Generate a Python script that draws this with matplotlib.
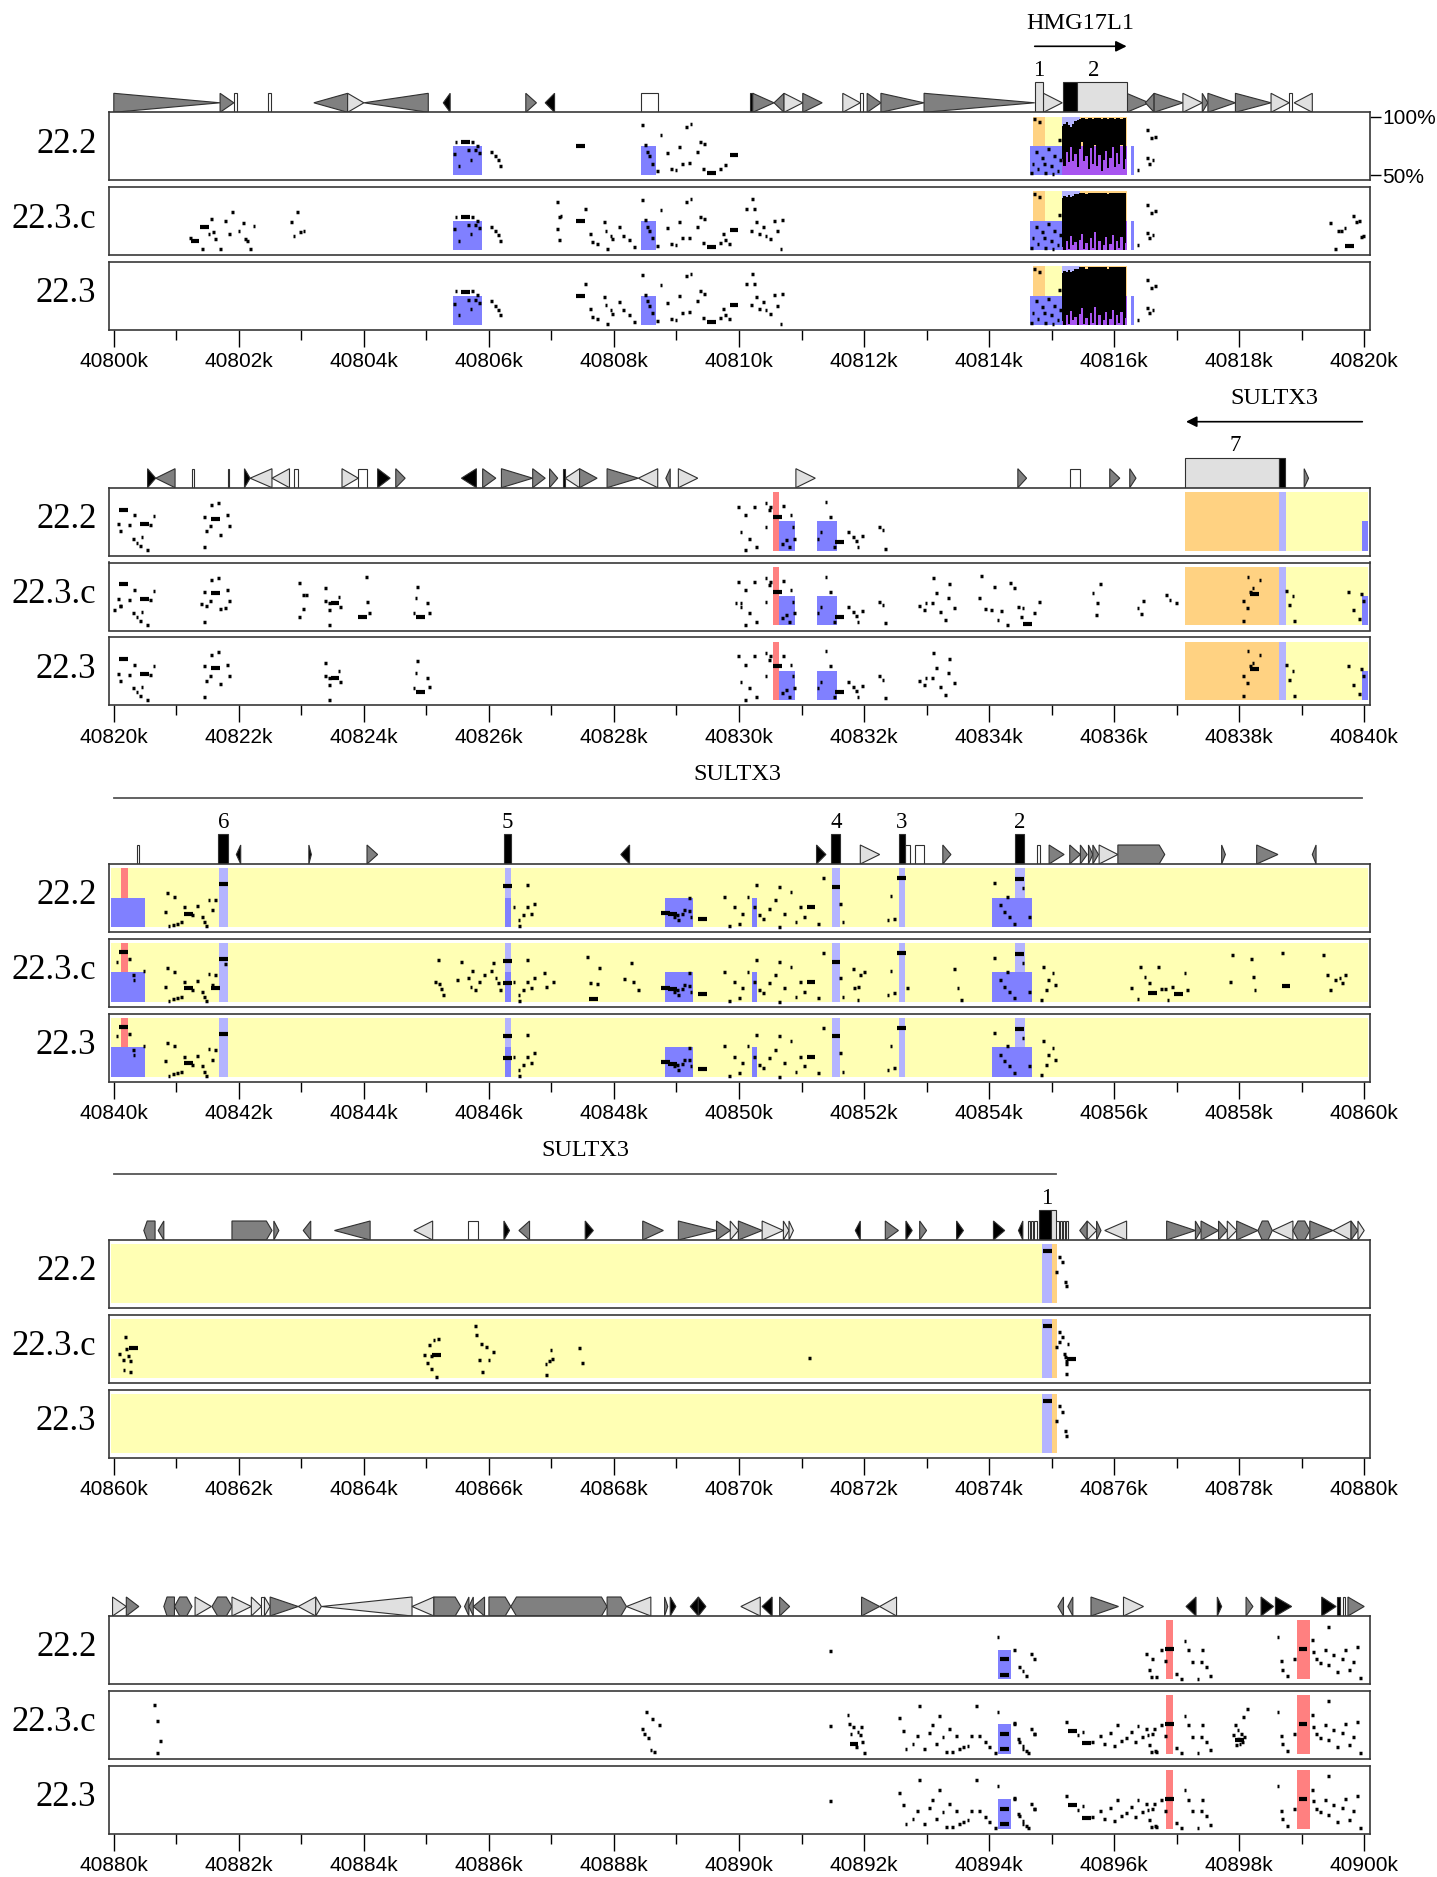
import matplotlib
matplotlib.use('Agg')
import matplotlib.pyplot as plt
from matplotlib.patches import Polygon
from matplotlib.ticker import MultipleLocator, FuncFormatter

W, H = 1437, 1877
SERIF = ['Liberation Serif', 'DejaVu Serif']
SANS = ['Liberation Sans', 'DejaVu Sans']

track_names = ['22.2', '22.3.c', '22.3']
panel_starts = [40800, 40820, 40840, 40860, 40880]

# gene name, label centre, arrow / line extent (kb)
gene_labels = [('HMG17L1', 40815.46), ('SULTX3', 40838.57), ('SULTX3', 40849.97), ('SULTX3', 40867.54), None]
gene_arrows = [(40814.73, 40816.20, '>'), (40839.97, 40837.15, '<'), (40840.0, 40859.97, '-'), (40860.0, 40875.07, '-'), None]

# repeats: (start, end, shape, class)  shape > < right/left, p q pentagon, h hexagon, b box, | bar
p1_repeats = [
    (40800.00, 40801.70, '>', 'g'), (40801.70, 40801.92, '>', 'g'), (40801.93, 40801.97, '|', 'w'),
    (40802.47, 40802.51, '|', 'w'), (40803.20, 40803.74, '<', 'g'), (40803.74, 40804.00, '>', 'l'),
    (40804.00, 40805.03, '<', 'g'), (40805.27, 40805.38, '<', 'k'), (40806.59, 40806.76, '>', 'g'),
    (40806.90, 40807.05, '<', 'k'), (40808.44, 40808.70, 'b', 'w'), (40810.18, 40810.22, '|', 'k'),
    (40810.22, 40810.56, '>', 'g'), (40810.56, 40810.72, '<', 'g'), (40810.72, 40811.02, '>', 'l'),
    (40811.02, 40811.33, '>', 'g'), (40811.66, 40811.94, '>', 'l'), (40811.94, 40811.99, '|', 'w'),
    (40812.05, 40812.27, '>', 'g'), (40812.27, 40812.96, '>', 'g'), (40812.96, 40814.73, '>', 'g'),
    (40814.87, 40815.17, '>', 'l'), (40816.20, 40816.56, '>', 'g'), (40816.50, 40816.64, '<', 'g'),
    (40816.64, 40817.10, '>', 'g'), (40817.10, 40817.41, '>', 'l'), (40817.41, 40817.50, '>', 'g'),
    (40817.50, 40817.94, '>', 'g'), (40817.94, 40818.51, '>', 'g'), (40818.51, 40818.80, '>', 'l'),
    (40818.80, 40818.85, '|', 'w'), (40818.88, 40819.17, '<', 'l'),
]
p2_repeats = [
    (40820.54, 40820.67, '>', 'k'), (40820.67, 40820.98, '<', 'g'), (40821.25, 40821.29, '|', 'w'),
    (40821.82, 40821.85, '|', 'k'), (40822.09, 40822.18, '>', 'k'), (40822.18, 40822.53, '<', 'l'),
    (40822.53, 40822.81, '<', 'l'), (40822.88, 40822.94, '|', 'w'), (40823.65, 40823.91, '>', 'l'),
    (40823.91, 40824.05, 'b', 'w'), (40824.22, 40824.42, '>', 'k'), (40824.51, 40824.66, '>', 'g'),
    (40825.56, 40825.80, '<', 'k'), (40825.90, 40826.11, '>', 'g'), (40826.20, 40826.70, '>', 'g'),
    (40826.70, 40826.90, '>', 'g'), (40826.97, 40827.10, '>', 'g'), (40827.19, 40827.22, '|', 'k'),
    (40827.22, 40827.45, '<', 'l'), (40827.45, 40827.73, '>', 'g'), (40827.89, 40828.39, '>', 'g'),
    (40828.39, 40828.70, '<', 'l'), (40828.83, 40828.90, '<', 'g'), (40829.03, 40829.34, '>', 'l'),
    (40830.91, 40831.22, '>', 'l'), (40834.46, 40834.60, '>', 'g'), (40835.29, 40835.45, 'b', 'w'),
    (40835.93, 40836.09, '>', 'g'), (40836.25, 40836.35, '>', 'g'), (40839.04, 40839.11, '>', 'g'),
]
p3_repeats = [
    (40840.37, 40840.41, '|', 'w'), (40841.96, 40842.03, '<', 'k'), (40843.12, 40843.16, '>', 'k'),
    (40844.05, 40844.22, '>', 'g'), (40848.11, 40848.25, '<', 'k'), (40851.24, 40851.39, '>', 'k'),
    (40851.94, 40852.25, '>', 'l'), (40852.65, 40852.74, 'b', 'w'), (40852.82, 40852.96, 'b', 'w'),
    (40853.26, 40853.39, '>', 'g'), (40854.77, 40854.81, '|', 'w'), (40854.96, 40855.20, '>', 'g'),
    (40855.29, 40855.46, '>', 'g'), (40855.46, 40855.57, '>', 'g'), (40855.59, 40855.66, '>', 'g'),
    (40855.66, 40855.75, '>', 'g'), (40855.76, 40856.06, '>', 'l'), (40856.06, 40856.81, 'p', 'g'),
    (40857.72, 40857.78, '>', 'g'), (40858.28, 40858.62, '>', 'g'), (40859.17, 40859.23, '<', 'g'),
]
p4_repeats = [
    (40860.48, 40860.66, 'q', 'g'), (40860.71, 40860.80, '<', 'g'), (40861.89, 40862.53, 'p', 'g'),
    (40862.56, 40862.64, '>', 'g'), (40863.03, 40863.15, '<', 'g'), (40863.53, 40864.10, '<', 'g'),
    (40864.80, 40865.10, '<', 'l'), (40865.66, 40865.83, 'b', 'w'), (40866.24, 40866.33, '>', 'k'),
    (40866.48, 40866.65, '<', 'g'), (40867.54, 40867.67, '>', 'k'), (40868.46, 40868.79, '>', 'g'),
    (40869.03, 40869.64, '>', 'g'), (40869.64, 40869.86, '>', 'g'), (40869.86, 40869.99, '>', 'l'),
    (40869.99, 40870.37, '>', 'g'), (40870.37, 40870.71, '>', 'l'), (40870.71, 40870.80, '>', 'l'),
    (40870.80, 40870.87, '>', 'l'), (40871.86, 40871.94, '<', 'k'), (40872.34, 40872.55, '>', 'g'),
    (40872.67, 40872.77, '>', 'k'), (40872.89, 40873.00, '>', 'g'), (40873.48, 40873.59, '>', 'k'),
    (40874.07, 40874.25, '>', 'k'), (40874.47, 40874.54, '<', 'k'), (40874.62, 40874.66, '|', 'w'),
    (40874.67, 40874.71, '|', 'w'), (40874.72, 40874.76, '|', 'w'), (40875.03, 40875.12, 'b', 'w'),
    (40875.13, 40875.17, '|', 'w'), (40875.18, 40875.22, '|', 'w'), (40875.23, 40875.27, '|', 'w'),
    (40875.45, 40875.57, '<', 'g'), (40875.57, 40875.72, '>', 'l'), (40875.72, 40875.79, '>', 'g'),
    (40875.85, 40876.20, '<', 'l'), (40876.84, 40877.30, '>', 'g'), (40877.30, 40877.39, '>', 'g'),
    (40877.39, 40877.67, '>', 'g'), (40877.67, 40877.81, '>', 'g'), (40877.81, 40877.96, '>', 'l'),
    (40877.96, 40878.30, '>', 'g'), (40878.30, 40878.53, 'h', 'g'), (40878.53, 40878.86, '<', 'l'),
    (40878.86, 40879.13, 'h', 'g'), (40879.13, 40879.50, '>', 'g'), (40879.50, 40879.79, '<', 'l'),
    (40879.79, 40879.90, '>', 'g'), (40879.90, 40880.00, '>', 'l'),
]
p5_repeats = [
    (40879.98, 40880.20, '>', 'l'), (40880.20, 40880.40, '>', 'g'), (40880.80, 40880.97, 'q', 'g'),
    (40880.97, 40881.25, 'h', 'g'), (40881.30, 40881.56, '>', 'l'), (40881.57, 40881.89, 'h', 'g'),
    (40881.89, 40882.20, '>', 'l'), (40882.20, 40882.36, '>', 'l'), (40882.36, 40882.41, '|', 'w'),
    (40882.41, 40882.50, '>', 'l'), (40882.50, 40882.95, '>', 'g'), (40882.95, 40883.23, '<', 'l'),
    (40883.23, 40883.32, '>', 'l'), (40883.32, 40884.77, '<', 'l'), (40884.77, 40885.12, '<', 'l'),
    (40885.12, 40885.55, 'p', 'g'), (40885.61, 40885.68, '<', 'g'), (40885.68, 40885.75, '<', 'g'),
    (40885.75, 40885.93, '<', 'g'), (40886.00, 40886.35, 'p', 'g'), (40886.35, 40887.89, 'h', 'g'),
    (40887.89, 40888.20, 'p', 'g'), (40888.20, 40888.59, '<', 'l'), (40888.81, 40888.86, '>', 'g'),
    (40888.90, 40888.99, '>', 'k'), (40889.22, 40889.35, '<', 'k'), (40889.35, 40889.47, '>', 'k'),
    (40890.03, 40890.34, '<', 'l'), (40890.37, 40890.53, '<', 'k'), (40890.65, 40890.81, '>', 'g'),
    (40891.96, 40892.25, '>', 'g'), (40892.25, 40892.52, '<', 'l'), (40895.10, 40895.19, '<', 'g'),
    (40895.26, 40895.34, '<', 'g'), (40895.63, 40896.07, '>', 'g'), (40896.15, 40896.47, '>', 'l'),
    (40897.15, 40897.31, '<', 'k'), (40897.65, 40897.72, '>', 'k'), (40898.11, 40898.22, '>', 'g'),
    (40898.35, 40898.55, '>', 'k'), (40898.58, 40898.84, '>', 'k'), (40899.32, 40899.55, '>', 'k'),
    (40899.57, 40899.61, '|', 'k'), (40899.66, 40899.70, '|', 'w'), (40899.74, 40900.00, '>', 'g'),
]

# exons: (start, end, c = coding / u = utr) and their numbers
p1_exons = [(40814.73, 40814.87, 'u'), (40815.18, 40815.41, 'c'), (40815.41, 40816.20, 'u')]
p2_exons = [(40837.14, 40838.64, 'u'), (40838.64, 40838.74, 'c')]
p3_exons = [(40841.67, 40841.83, 'c'), (40846.24, 40846.35, 'c'), (40851.47, 40851.62, 'c'),
            (40852.56, 40852.65, 'c'), (40854.41, 40854.56, 'c')]
p4_exons = [(40874.80, 40874.99, 'c'), (40874.99, 40875.07, 'u')]
p5_exons = []
p1_exon_nums = [(40814.80, '1'), (40815.68, '2')]
p2_exon_nums = [(40837.94, '7')]
p3_exon_nums = [(40841.75, '6'), (40846.30, '5'), (40851.55, '4'), (40852.60, '3'), (40854.49, '2')]
p4_exon_nums = [(40874.92, '1')]
p5_exon_nums = []

# shaded regions: (start, end, part, class)
p1_shade = [
    (40805.43, 40805.89, 'lo', 'B'), (40808.44, 40808.68, 'lo', 'B'), (40814.71, 40814.90, 'up', 'O'),
    (40814.90, 40815.17, 'up', 'Y'), (40814.65, 40815.17, 'lo', 'B'), (40815.17, 40815.45, 'up', 'L'),
    (40815.45, 40816.20, 'up', 'O'), (40815.17, 40816.20, 'lo', 'P'), (40816.27, 40816.32, 'lo', 'B'),
]
p2_shade = [
    (40830.64, 40830.89, 'lo', 'B'), (40830.55, 40830.64, 'all', 'R'), (40831.24, 40831.56, 'lo', 'B'),
    (40837.14, 40838.64, 'all', 'O'), (40838.64, 40838.75, 'all', 'L'), (40838.75, 40840.06, 'all', 'Y'),
    (40839.96, 40840.06, 'lo', 'B'),
]
p3_shade = [
    (40839.96, 40860.06, 'all', 'Y'), (40839.96, 40840.50, 'lo', 'B'), (40840.11, 40840.23, 'up', 'R'),
    (40841.68, 40841.83, 'all', 'L'), (40846.25, 40846.35, 'up', 'L'), (40846.25, 40846.35, 'lo', 'B'),
    (40848.81, 40849.27, 'lo', 'B'), (40850.21, 40850.28, 'lo', 'B'), (40851.48, 40851.61, 'all', 'L'),
    (40852.56, 40852.65, 'all', 'L'), (40854.42, 40854.57, 'up', 'L'), (40854.05, 40854.69, 'lo', 'B'),
]
p4_shade = [(40859.96, 40874.84, 'all', 'Y'), (40874.84, 40875.00, 'all', 'L'), (40875.00, 40875.09, 'all', 'O')]
p5_shade = [(40894.15, 40894.35, 'lo', 'B'), (40896.83, 40896.94, 'all', 'R'), (40898.93, 40899.13, 'all', 'R')]

# aligned segments (kb, % identity) per group of tracks: a = 22.2, b = 22.3.c, c = 22.3
p1_dots = [
    ('abc', [(40805.47, 78.6), (40805.74, 78.6), (40805.45, 68.0), (40805.52, 58.0), (40805.67, 71.4),
             (40805.71, 63.4), (40805.78, 71.4), (40805.85, 68.6), (40806.04, 70.0), (40806.10, 66.3),
             (40806.15, 62.9), (40806.18, 58.0), (40805.82, 75.1),
             (40808.46, 92.9), (40808.50, 75.7), (40808.53, 70.0), (40808.57, 66.3), (40808.61, 60.0),
             (40808.69, 53.7), (40808.75, 84.3), (40808.86, 68.6), (40808.92, 55.1), (40808.99, 54.3),
             (40809.05, 74.3), (40809.10, 60.0), (40809.20, 60.6), (40809.33, 70.0), (40809.38, 78.6),
             (40809.43, 55.7), (40809.45, 76.6), (40809.23, 93.7), (40809.16, 91.4), (40809.70, 55.7),
             (40809.78, 58.6),
             (40814.70, 60.0), (40814.75, 70.0), (40814.78, 55.0), (40814.85, 65.0), (40814.90, 52.0),
             (40814.95, 72.0), (40815.00, 58.0), (40815.05, 66.0), (40815.10, 54.0), (40814.72, 98.0),
             (40814.80, 95.0), (40815.12, 80.0), (40814.68, 52.0), (40814.88, 60.0), (40815.02, 51.0),
             (40815.14, 63.0),
             (40816.53, 88.6), (40816.60, 81.4), (40816.66, 82.9), (40816.53, 64.3), (40816.56, 60.0),
             (40816.62, 62.9), (40816.38, 54.3)]),
    ('bc', [(40807.54, 85.1), (40807.62, 63.7), (40807.65, 56.6), (40807.73, 55.1), (40807.84, 73.7),
            (40807.87, 66.6), (40807.95, 62.3), (40807.98, 59.4), (40807.89, 50.9), (40808.09, 69.4),
            (40808.15, 62.3), (40808.24, 58.6), (40808.33, 52.3),
            (40810.21, 93.7), (40810.25, 85.1), (40810.20, 66.6), (40810.28, 73.7), (40810.32, 63.7),
            (40810.39, 69.4), (40810.43, 62.3), (40810.50, 59.4), (40810.56, 75.1), (40810.61, 66.0),
            (40810.67, 50.5), (40810.69, 76.0), (40810.12, 85.1), (40809.84, 55.1), (40809.75, 63.7)]),
    ('b', [(40801.23, 60.0), (40801.56, 76.6), (40801.59, 65.1), (40801.63, 59.4), (40801.70, 50.5),
           (40801.78, 75.1), (40801.85, 63.7), (40801.89, 82.3), (40802.00, 66.6), (40802.07, 72.9),
           (40802.11, 59.4), (40802.14, 58.0), (40802.18, 50.5), (40802.24, 70.6), (40801.41, 50.9),
           (40801.52, 63.7),
           (40802.84, 73.7), (40802.88, 62.3), (40802.94, 82.3), (40802.99, 65.1), (40803.04, 66.0),
           (40807.10, 90.9), (40807.12, 78.0), (40807.10, 68.0), (40807.12, 58.9), (40807.15, 79.4),
           (40819.46, 72.9), (40819.58, 66.6), (40819.63, 66.6), (40819.69, 68.9), (40819.83, 79.4),
           (40819.87, 73.7), (40819.92, 75.1), (40819.96, 60.9), (40819.99, 62.3), (40819.54, 50.9)]),
]
p1_dashes = [
    ('abc', [(40805.63, 78.0), (40807.47, 75.0), (40809.56, 52.3), (40809.92, 67.1)]),
    ('b', [(40801.30, 57.4), (40801.45, 70.0), (40819.76, 53.7)]),
]
# dense block over HMG17L1 exon 2: x, top and bottom of the black mass
p1_dense_x = [40815.17, 40815.21, 40815.24, 40815.28, 40815.31, 40815.35, 40815.38, 40815.42,
              40815.45, 40815.49, 40815.52, 40815.56, 40815.59, 40815.63, 40815.66, 40815.70,
              40815.73, 40815.77, 40815.80, 40815.84, 40815.87, 40815.91, 40815.94, 40815.98,
              40816.01, 40816.05, 40816.08, 40816.12, 40816.15, 40816.19]
p1_dense_top_a = [92, 94, 95, 93, 91, 94, 96, 97, 98, 99, 99, 98, 99, 99, 98,
                  99, 99, 99, 98, 99, 99, 98, 99, 99, 98, 99, 99, 98, 99, 99]
p1_dense_low_a = [64, 58, 70, 61, 74, 62, 68, 57, 72, 78, 62, 66, 55, 73, 60,
                  76, 58, 67, 54, 63, 71, 56, 65, 74, 57, 69, 60, 76, 55, 64]
p1_dense_top_bc = [94, 96, 95, 97, 95, 96, 98, 98, 99, 99, 99, 98, 99, 99, 99,
                   99, 99, 99, 99, 99, 99, 98, 99, 99, 99, 99, 99, 99, 99, 99]
p1_dense_low_bc = [53, 50, 58, 51, 62, 54, 57, 50, 59, 64, 51, 56, 50, 60, 52,
                   65, 50, 58, 50, 54, 61, 50, 55, 63, 50, 58, 52, 61, 50, 56]

p2_dots = [
    ('abc', [(40820.07, 72.6), (40820.11, 66.6), (40820.25, 71.7), (40820.33, 80.3), (40820.31, 60.3),
             (40820.37, 56.9), (40820.42, 54.0), (40820.59, 71.7), (40820.64, 79.4), (40820.45, 61.7),
             (40820.54, 50.5),
             (40821.45, 78.9), (40821.56, 88.9), (40821.67, 90.9), (40821.54, 70.9), (40821.48, 66.6),
             (40821.81, 80.3), (40821.85, 70.9), (40821.70, 63.7), (40821.45, 53.1),
             (40829.99, 87.4), (40830.10, 80.3), (40830.25, 87.4), (40830.43, 90.3), (40830.50, 87.4),
             (40830.03, 66.0), (40830.17, 60.3), (40830.28, 53.1), (40830.10, 50.5), (40830.43, 70.3),
             (40830.49, 84.6), (40830.71, 88.0), (40830.83, 80.3), (40830.86, 70.3), (40830.89, 60.3),
             (40830.69, 56.0), (40830.76, 58.9), (40830.80, 53.1),
             (40831.39, 91.7), (40831.46, 78.9), (40831.31, 66.0), (40831.26, 60.3), (40831.52, 53.1),
             (40831.75, 66.0), (40831.83, 61.7), (40831.88, 58.3), (40831.97, 62.3), (40831.90, 53.1),
             (40832.25, 70.3), (40832.30, 67.4), (40832.34, 51.7)]),
    ('bc', [(40823.39, 81.7), (40823.39, 71.1), (40823.45, 69.4), (40823.60, 74.6), (40823.63, 66.0),
            (40823.45, 63.1), (40823.45, 50.5),
            (40824.85, 83.1), (40824.83, 73.1), (40825.01, 69.4), (40824.80, 60.3), (40825.05, 60.9),
            (40832.89, 66.6), (40832.99, 68.9), (40833.09, 69.4), (40833.11, 90.3), (40833.15, 77.4),
            (40833.22, 61.7), (40833.30, 54.6), (40833.37, 85.4), (40833.35, 73.1), (40833.44, 64.6),
            (40832.96, 63.1),
            (40838.14, 91.7), (40838.33, 88.9), (40838.22, 81.7), (40838.18, 78.9), (40838.07, 71.1),
            (40838.13, 64.9), (40838.07, 53.4),
            (40838.75, 79.7), (40838.86, 75.1), (40838.80, 67.4), (40838.88, 54.0),
            (40839.74, 78.9), (40839.83, 63.1), (40839.92, 55.1), (40839.96, 76.9), (40839.98, 70.6)]),
    ('b', [(40820.01, 62.9), (40820.10, 66.3), (40821.40, 68.0), (40821.79, 64.6), (40829.95, 68.9),
           (40830.03, 68.9),
           (40822.97, 86.6), (40823.03, 76.0), (40823.08, 76.0), (40823.03, 63.7), (40822.97, 57.4),
           (40824.04, 91.7), (40824.05, 70.3), (40824.09, 60.9),
           (40833.87, 92.3), (40833.85, 73.1), (40833.94, 63.7), (40834.09, 83.1), (40834.14, 54.6),
           (40834.19, 62.3), (40834.29, 50.3), (40834.34, 86.6), (40834.41, 81.7), (40834.47, 66.0),
           (40834.51, 56.9), (40834.73, 60.3), (40834.80, 70.3), (40834.54, 64.6), (40834.03, 63.1),
           (40835.66, 77.4), (40835.73, 69.4), (40835.72, 58.9), (40835.78, 85.4),
           (40836.38, 64.6), (40836.44, 59.7), (40836.47, 71.1),
           (40836.84, 76.0), (40836.89, 71.7), (40837.00, 68.9)]),
]
p2_dashes = [
    ('abc', [(40820.16, 85.1), (40820.49, 72.6), (40821.63, 77.4), (40830.61, 78.9), (40831.61, 57.4)]),
    ('bc', [(40823.54, 68.9), (40824.90, 57.4), (40838.25, 76.9)]),
    ('b', [(40823.98, 56.9), (40834.62, 50.9)]),
]

p3_dots = [
    ('abc', [(40840.82, 62.9), (40840.86, 78.6), (40840.97, 75.7), (40841.01, 52.9), (40841.08, 54.3),
             (40841.13, 67.1), (40841.25, 60.0), (40841.34, 67.7), (40841.41, 58.6), (40841.45, 54.3),
             (40841.52, 73.4), (40841.57, 64.3), (40840.88, 50.9), (40840.95, 52.0), (40841.48, 50.5),
             (40841.63, 72.9),
             (40846.40, 67.1), (40846.55, 60.0), (40846.62, 67.1), (40846.68, 61.4), (40846.73, 70.0),
             (40846.48, 55.7), (40846.49, 50.5), (40846.62, 85.7),
             (40849.01, 60.0), (40849.09, 60.9), (40849.12, 64.3), (40849.20, 63.7), (40849.23, 58.6),
             (40849.03, 55.7), (40848.97, 58.6), (40849.20, 74.3),
             (40849.77, 75.7), (40849.84, 50.5), (40850.00, 52.9), (40849.92, 67.1), (40850.25, 67.1),
             (40850.32, 60.0), (40850.39, 57.1), (40850.49, 65.7), (40850.58, 72.9), (40850.65, 50.0),
             (40850.72, 61.4), (40850.83, 80.0), (40850.91, 54.3), (40850.98, 67.1), (40851.05, 58.6),
             (40851.27, 52.9), (40851.35, 91.4), (40850.64, 84.3), (40850.28, 85.7), (40850.14, 75.7),
             (40850.05, 61.4), (40851.62, 70.0), (40851.66, 54.3), (40852.38, 55.7), (40852.49, 57.1),
             (40852.43, 76.3),
             (40854.09, 87.1), (40854.18, 68.6), (40854.29, 75.7), (40854.32, 58.6), (40854.24, 62.9),
             (40854.40, 52.9), (40854.65, 58.6), (40854.54, 82.9)]),
    ('bc', [(40840.25, 86.6), (40840.05, 84.3), (40840.31, 72.9), (40840.32, 68.6), (40840.48, 76.3),
            (40854.87, 80.0), (40854.95, 68.6), (40855.02, 74.3), (40855.06, 64.3), (40854.91, 60.0),
            (40854.84, 51.4)]),
    ('b', [(40841.78, 82.3),
           (40845.14, 67.1), (40845.21, 65.1), (40845.24, 61.1), (40845.27, 55.7), (40845.19, 85.7),
           (40845.49, 68.6), (40845.56, 84.3), (40845.67, 70.0), (40845.74, 76.6), (40845.71, 62.9),
           (40845.78, 60.0), (40845.85, 67.1), (40845.93, 72.9), (40846.04, 76.6), (40846.11, 70.0),
           (40846.15, 65.7), (40846.18, 60.0), (40846.07, 82.9),
           (40846.88, 74.3), (40846.92, 62.9), (40847.03, 67.1),
           (40847.58, 88.6), (40847.62, 65.7), (40847.73, 65.1), (40847.76, 78.6), (40848.17, 69.1),
           (40848.28, 82.9), (40848.39, 60.0), (40848.31, 67.1),
           (40851.83, 77.7), (40851.94, 72.9), (40852.01, 75.7), (40851.84, 61.4), (40851.91, 62.9),
           (40851.90, 51.4), (40852.69, 61.4), (40853.50, 62.0), (40853.44, 77.7), (40853.55, 51.4),
           (40856.27, 61.4), (40856.38, 52.0), (40856.42, 80.0), (40856.49, 71.4), (40856.56, 66.3),
           (40856.71, 80.0), (40856.75, 60.6), (40856.82, 61.1), (40856.86, 51.4), (40856.93, 62.9),
           (40857.13, 74.3), (40857.17, 60.0),
           (40857.89, 90.0), (40857.86, 67.1), (40858.20, 86.3), (40858.23, 70.9), (40858.25, 60.0),
           (40858.69, 91.4),
           (40859.35, 90.0), (40859.41, 72.9), (40859.54, 68.6), (40859.61, 70.0), (40859.70, 72.9),
           (40859.65, 66.3), (40859.46, 60.0)]),
]
p3_dashes = [
    ('abc', [(40841.75, 86.3), (40846.30, 84.6), (40851.55, 84.3), (40852.60, 91.4), (40854.49, 90.6),
             (40841.19, 61.4), (40848.83, 62.0), (40848.94, 60.9), (40849.42, 56.6), (40851.15, 66.6)]),
    ('bc', [(40840.16, 92.3), (40846.30, 66.0)]),
    ('b', [(40841.63, 61.4), (40847.67, 52.0), (40856.61, 57.1), (40857.03, 56.3), (40858.75, 63.7)]),
]

p4_dots = [
    ('abc', [(40875.13, 89.4), (40875.17, 84.6), (40875.07, 76.6), (40875.22, 68.0), (40875.24, 64.3)]),
    ('b', [(40875.13, 80.6), (40875.26, 78.6), (40875.20, 70.6), (40875.24, 61.4), (40875.24, 53.4),
           (40871.13, 66.6),
           (40860.09, 70.6), (40860.15, 64.9), (40860.20, 74.9), (40860.23, 68.3), (40860.27, 64.3),
           (40860.16, 56.3), (40860.27, 54.9), (40860.18, 84.9),
           (40864.97, 69.1), (40865.01, 62.6), (40865.08, 68.3), (40865.05, 77.7), (40865.12, 82.0),
           (40865.19, 83.4), (40865.08, 57.7), (40865.16, 50.5),
           (40865.78, 94.0), (40865.80, 86.3), (40865.88, 79.1), (40865.96, 76.3), (40866.07, 71.7),
           (40865.85, 64.9), (40866.00, 64.9), (40865.89, 54.9),
           (40866.91, 62.0), (40866.96, 64.3), (40867.01, 66.3), (40866.99, 73.4), (40866.92, 52.0),
           (40867.45, 75.1), (40867.49, 62.6)]),
]
p4_dashes = [
    ('abc', [(40874.93, 94.3)]),
    ('b', [(40875.32, 65.7), (40860.31, 75.7), (40865.16, 69.1)]),
]

p5_dots = [
    ('abc', [(40891.46, 73.7), (40894.14, 86.0), (40894.41, 75.1), (40894.48, 60.3), (40894.54, 56.6),
             (40894.60, 52.3), (40894.68, 70.9), (40894.73, 66.6),
             (40896.51, 70.9), (40896.56, 57.4), (40896.60, 51.7), (40896.67, 51.7), (40896.61, 66.6),
             (40896.76, 74.6), (40896.82, 65.4), (40897.00, 54.6), (40897.08, 50.3), (40897.19, 74.6),
             (40897.25, 64.6), (40897.34, 50.3), (40897.39, 64.6), (40897.41, 74.6), (40897.47, 60.3),
             (40897.54, 52.9), (40897.13, 82.6),
             (40898.62, 86.0), (40898.67, 65.4), (40898.69, 58.0), (40898.77, 52.3), (40898.88, 66.6),
             (40899.19, 73.1), (40899.23, 66.6), (40899.30, 63.7), (40899.38, 74.6), (40899.43, 61.7),
             (40899.50, 70.3), (40899.57, 56.0), (40899.65, 67.4), (40899.70, 75.1), (40899.76, 57.4),
             (40899.82, 64.6), (40899.89, 77.4), (40899.94, 50.5), (40899.43, 94.6), (40899.17, 83.1)]),
    ('bc', [(40892.57, 80.3), (40892.63, 69.7), (40892.67, 54.0), (40892.78, 58.3), (40892.85, 65.4),
            (40892.89, 91.1), (40892.96, 54.0), (40893.04, 67.7), (40893.09, 74.6), (40893.15, 58.3),
            (40893.21, 82.6), (40893.26, 64.0), (40893.31, 51.1), (40893.37, 71.1), (40893.41, 51.7),
            (40893.48, 65.4), (40893.52, 54.0), (40893.59, 55.4), (40893.66, 56.9), (40893.72, 65.4),
            (40893.79, 91.1), (40893.85, 64.9), (40893.94, 59.7), (40894.01, 55.4), (40894.10, 50.6),
            (40894.40, 76.0), (40894.47, 62.6), (40894.54, 54.0), (40894.63, 50.5), (40894.73, 66.9),
            (40895.24, 77.4), (40895.42, 66.0), (40895.50, 68.9), (40895.65, 59.7), (40895.78, 65.4),
            (40895.85, 58.3), (40895.94, 67.7), (40896.00, 56.3), (40896.05, 74.6), (40896.12, 61.1),
            (40896.20, 63.1), (40896.27, 68.3), (40896.34, 59.7), (40896.38, 74.0), (40896.45, 64.0),
            (40896.54, 66.0), (40896.64, 71.1), (40896.66, 52.6)]),
    ('b', [(40880.65, 91.4), (40880.70, 77.7), (40880.75, 60.9), (40880.69, 50.5),
           (40888.52, 85.7), (40888.62, 80.0), (40888.72, 74.9), (40888.45, 71.4), (40888.49, 66.6),
           (40888.55, 63.7), (40888.59, 52.9), (40888.64, 51.4),
           (40891.74, 82.9), (40891.77, 75.7), (40891.83, 72.9), (40891.79, 67.1), (40891.90, 68.6),
           (40891.94, 65.7), (40891.96, 72.9), (40891.88, 55.7), (40891.97, 60.0), (40892.01, 50.5),
           (40897.94, 74.3), (40897.98, 70.6), (40898.03, 67.1), (40897.99, 62.9), (40898.05, 60.0),
           (40897.96, 57.1), (40898.01, 58.6), (40898.08, 64.3), (40897.91, 65.7), (40898.13, 88.6),
           (40898.07, 81.4)]),
]
p5_dashes = [
    ('abc', [(40894.25, 66.6), (40894.25, 53.7), (40896.88, 75.4), (40899.02, 75.4)]),
    ('bc', [(40895.34, 69.7), (40895.56, 59.1)]),
    ('b', [(40891.84, 58.6), (40898.01, 61.5)]),
]

all_repeats = [p1_repeats, p2_repeats, p3_repeats, p4_repeats, p5_repeats]
all_exons = [p1_exons, p2_exons, p3_exons, p4_exons, p5_exons]
all_exon_nums = [p1_exon_nums, p2_exon_nums, p3_exon_nums, p4_exon_nums, p5_exon_nums]
all_shade = [p1_shade, p2_shade, p3_shade, p4_shade, p5_shade]
all_dots = [p1_dots, p2_dots, p3_dots, p4_dots, p5_dots]
all_dashes = [p1_dashes, p2_dashes, p3_dashes, p4_dashes, p5_dashes]

rep_colors = {'g': '#808080', 'l': '#e0e0e0', 'k': '#000000', 'w': '#ffffff'}
shade_colors = {'Y': '#ffffb4', 'O': '#ffd282', 'L': '#b4b4ff', 'B': '#8080ff', 'R': '#ff8080', 'P': '#a855f0'}
shade_parts = {'all': (50, 100), 'up': (75, 100), 'lo': (50, 75)}

# layout in pixels
AX_LEFT, AX_RIGHT = 108.8, 1369.7
panel_tops = [112.3, 487.7, 864.0, 1240.0, 1616.0]
TRACK_H, PITCH = 68.0, 74.8

fig = plt.figure(figsize=(W / 100, H / 100), dpi=100)


def px_axes(x0, y0, x1, y1):
    return fig.add_axes([x0 / W, 1 - y1 / H, (x1 - x0) / W, (y1 - y0) / H])


def shape_points(s, e, shape, h):
    d = min(0.09, (e - s) * 0.3)
    if shape == '>':
        return [(s, 0), (s, h), (e, h / 2)]
    if shape == '<':
        return [(e, 0), (e, h), (s, h / 2)]
    if shape == 'p':
        return [(s, 0), (s, h), (e - d, h), (e, h / 2), (e - d, 0)]
    if shape == 'q':
        return [(e, 0), (e, h), (s + d, h), (s, h / 2), (s + d, 0)]
    if shape == 'h':
        return [(s, h / 2), (s + d, h), (e - d, h), (e, h / 2), (e - d, 0), (s + d, 0)]
    return [(s, 0), (s, h), (e, h), (e, 0)]


for p, start in enumerate(panel_starts):
    top = panel_tops[p]
    xlim = (start - 0.08, start + 20.088)

    # annotation strip above the tracks, y in pixels above the first track
    ann = px_axes(AX_LEFT, top - 100, AX_RIGHT, top)
    ann.set_xlim(xlim)
    ann.set_ylim(0, 100)
    ann.axis('off')
    for s, e, shape, cls in all_repeats[p]:
        ann.add_patch(Polygon(shape_points(s, e, shape, 19), closed=True,
                              fc=rep_colors[cls], ec='#303030', lw=0.8))
    for s, e, kind in all_exons[p]:
        ann.add_patch(Polygon(shape_points(s, e, 'b', 30), closed=True,
                              fc='black' if kind == 'c' else '#e0e0e0', ec='#303030', lw=0.8))
    for x, num in all_exon_nums[p]:
        ann.text(x, 42, num, ha='center', va='center', fontsize=16.5, family=SERIF)
    if gene_labels[p]:
        name, gx = gene_labels[p]
        ann.text(gx, 89, name, ha='center', va='center', fontsize=17.5, family=SERIF)
        x0, x1, kind = gene_arrows[p]
        if kind == '-':
            ann.plot([x0, x1], [66, 66], color='#555555', lw=1.3)
        else:
            ann.annotate('', xy=(x1, 66), xytext=(x0, 66),
                         arrowprops=dict(arrowstyle='-|>', color='black', lw=1.2,
                                         mutation_scale=16, shrinkA=0, shrinkB=0))

    for t, name in enumerate(track_names):
        y0 = top + t * PITCH
        ax = px_axes(AX_LEFT, y0, AX_RIGHT, y0 + TRACK_H)
        ax.set_xlim(xlim)
        ax.set_ylim(45.7, 103.7)
        for sp in ax.spines.values():
            sp.set_color('#383838')
            sp.set_linewidth(1.2)

        for s, e, part, cls in all_shade[p]:
            lo, hi = shade_parts[part]
            ax.bar(s, hi - lo, width=e - s, bottom=lo, align='edge',
                   color=shade_colors[cls], linewidth=0, zorder=1)

        if p == 0:
            if t == 0:
                ax.fill_between(p1_dense_x, p1_dense_low_a, p1_dense_top_a, step='mid',
                                color='black', lw=0, zorder=2)
            else:
                ax.fill_between(p1_dense_x, p1_dense_low_bc, p1_dense_top_bc, step='mid',
                                color='black', lw=0, zorder=2)

        code = 'abc'[t]
        for members, pts in all_dots[p]:
            if code in members:
                xs = [q[0] for q in pts]
                ys = [q[1] for q in pts]
                ax.hlines(ys, [x - 0.02 for x in xs], [x + 0.025 for x in xs],
                          color='black', lw=2.5, zorder=3)
        for members, pts in all_dashes[p]:
            if code in members:
                xs = [q[0] for q in pts]
                ys = [q[1] for q in pts]
                ax.hlines(ys, [x - 0.07 for x in xs], [x + 0.07 for x in xs],
                          color='black', lw=3.0, zorder=3)

        fig.text(96.4 / W, 1 - (y0 + TRACK_H / 2 - 2) / H, name, ha='right', va='center',
                 fontsize=25, family=SERIF)

        if p == 0 and t == 0:
            ax.yaxis.tick_right()
            ax.set_yticks([50, 100])
            ax.set_yticklabels(['50%', '100%'], family=SANS)
            ax.tick_params(axis='y', length=8, width=1, pad=1, labelsize=15)
        else:
            ax.set_yticks([])

        if t == 2:
            ax.xaxis.set_major_locator(MultipleLocator(2))
            ax.xaxis.set_minor_locator(MultipleLocator(1))
            ax.xaxis.set_major_formatter(FuncFormatter(lambda v, pos: '%dk' % round(v)))
            ax.tick_params(axis='x', which='major', length=12, width=1, pad=4, labelsize=15)
            ax.tick_params(axis='x', which='minor', length=7, width=1)
            for lab in ax.get_xticklabels():
                lab.set_family(SANS)
        else:
            ax.set_xticks([])

fig.savefig('out.png', dpi=100)
